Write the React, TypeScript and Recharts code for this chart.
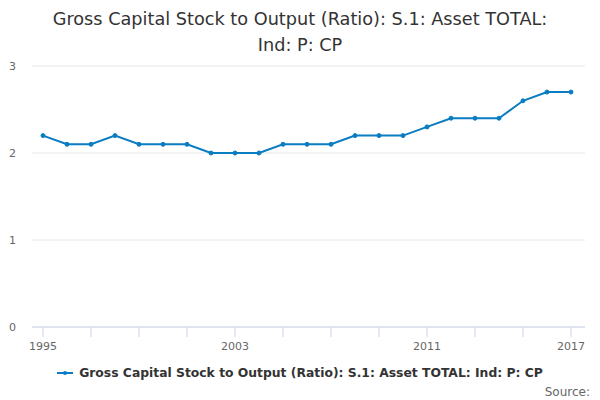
import { CartesianGrid, Line, LineChart, XAxis, YAxis } from 'recharts';

const TITLE_LINES = ['Gross Capital Stock to Output (Ratio): S.1: Asset TOTAL:', 'Ind: P: CP'];
const SERIES_NAME = 'Gross Capital Stock to Output (Ratio): S.1: Asset TOTAL: Ind: P: CP';

const years = [
  1995, 1996, 1997, 1998, 1999, 2000, 2001, 2002, 2003, 2004, 2005, 2006,
  2007, 2008, 2009, 2010, 2011, 2012, 2013, 2014, 2015, 2016, 2017,
];
const ratios = [
  2.2, 2.1, 2.1, 2.2, 2.1, 2.1, 2.1, 2.0, 2.0, 2.0, 2.1, 2.1,
  2.1, 2.2, 2.2, 2.2, 2.3, 2.4, 2.4, 2.4, 2.6, 2.7, 2.7,
];
const xTicks = [1995, 1997, 1999, 2001, 2003, 2005, 2007, 2009, 2011, 2013, 2015, 2017];
const xLabels = [1995, 2003, 2011, 2017];
const yTicks = [0, 1, 2, 3];

const FONT = '"DejaVu Sans", Verdana, sans-serif';
const LINE_COLOR = '#0a7cc1';

const data = years.map((year, i) => ({ year, value: ratios[i] }));

function YearTick({ x, y, payload }: { x?: number; y?: number; payload?: { value: number } }) {
  if (!payload || !xLabels.includes(payload.value)) return null;
  return (
    <text x={x} y={y} dy="0.71em" textAnchor="middle" fill="#666" fontSize={11} fontFamily={FONT}>
      {payload.value}
    </text>
  );
}

export default function App() {
  return (
    <div
      style={{
        position: 'absolute',
        left: 0,
        top: 0,
        width: 600,
        height: 400,
        background: '#fff',
        fontFamily: FONT,
      }}
    >
      <div
        style={{
          position: 'absolute',
          top: 6,
          left: 30,
          width: 540,
          textAlign: 'center',
          fontSize: 17.7,
          lineHeight: '26px',
          color: '#333',
        }}
      >
        {TITLE_LINES[0]}
        <br />
        {TITLE_LINES[1]}
      </div>
      <LineChart
        width={600}
        height={400}
        data={data}
        margin={{ top: 66, right: 15, bottom: 43, left: 0 }}
      >
        <CartesianGrid horizontal vertical={false} stroke="#e6e6e6" />
        <XAxis
          dataKey="year"
          type="number"
          domain={[1995, 2017]}
          ticks={xTicks}
          padding={{ left: 11, right: 14 }}
          stroke="#ccd6eb"
          tickSize={10}
          tickMargin={5}
          height={30}
          tick={<YearTick />}
          interval={0}
        />
        <YAxis
          domain={[0, 3]}
          ticks={yTicks}
          width={32}
          axisLine={false}
          tickLine={false}
          tickSize={0}
          tickMargin={16}
          tick={{ fill: '#666', fontSize: 11, fontFamily: FONT }}
        />
        <Line
          type="linear"
          dataKey="value"
          name={SERIES_NAME}
          stroke={LINE_COLOR}
          strokeWidth={2}
          dot={{ r: 2, fill: LINE_COLOR, stroke: LINE_COLOR, strokeWidth: 1 }}
          isAnimationActive={false}
        />
      </LineChart>
      <div
        style={{
          position: 'absolute',
          top: 365,
          left: 0,
          width: 600,
          display: 'flex',
          justifyContent: 'center',
          alignItems: 'center',
          fontSize: 12.35,
          fontWeight: 'bold',
          color: '#333',
          lineHeight: '16px',
        }}
      >
        <svg width={16} height={12} style={{ marginRight: 6 }}>
          <line x1={0} y1={6} x2={16} y2={6} stroke={LINE_COLOR} strokeWidth={2} />
          <circle cx={8} cy={6} r={2} fill={LINE_COLOR} />
        </svg>
        {SERIES_NAME}
      </div>
      <div
        style={{
          position: 'absolute',
          top: 385,
          right: 10,
          fontSize: 12,
          color: '#666',
        }}
      >
        Source:
      </div>
    </div>
  );
}
